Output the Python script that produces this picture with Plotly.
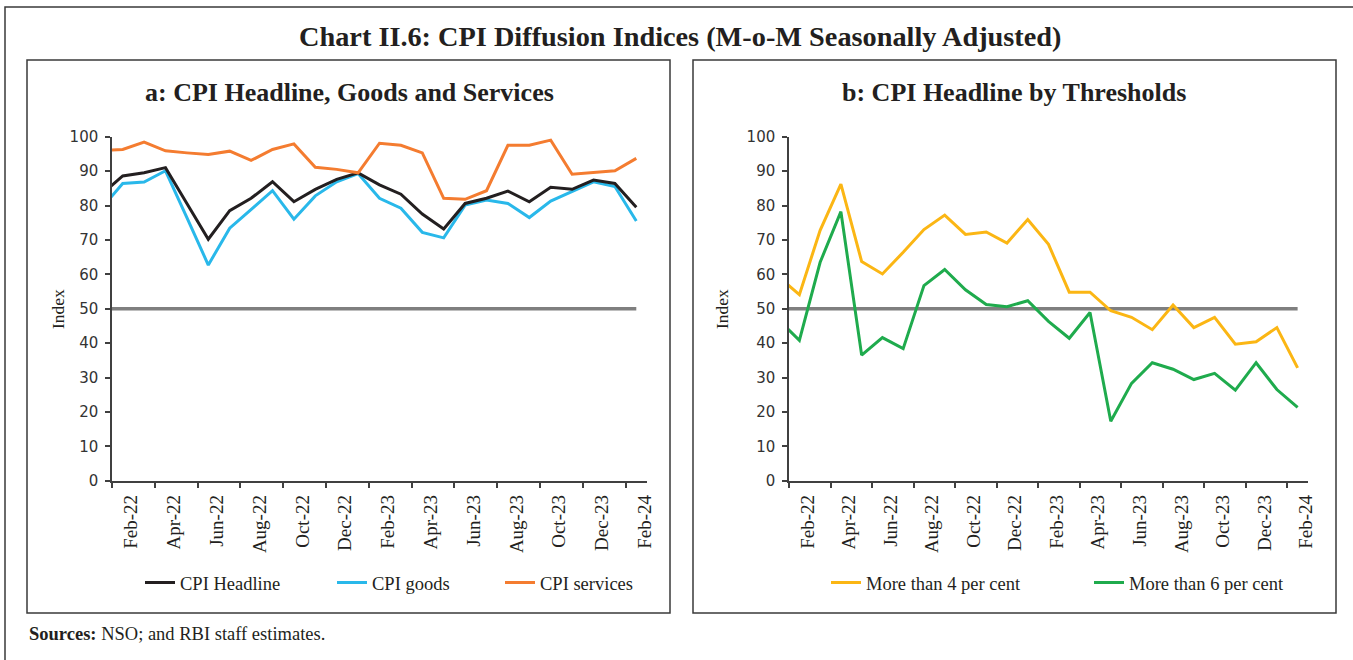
import plotly.graph_objects as go

# ---------------- data ----------------
months = ["Jan-22", "Feb-22", "Mar-22", "Apr-22", "May-22", "Jun-22", "Jul-22", "Aug-22",
          "Sep-22", "Oct-22", "Nov-22", "Dec-22", "Jan-23", "Feb-23", "Mar-23", "Apr-23",
          "May-23", "Jun-23", "Jul-23", "Aug-23", "Sep-23", "Oct-23", "Nov-23", "Dec-23",
          "Jan-24", "Feb-24"]

cpi_headline = [83.2, 88.6, 89.5, 91.0, 80.6, 70.2, 78.5, 82.1, 86.9, 81.1, 84.7, 87.6, 89.5,
                86.0, 83.3, 77.5, 73.2, 80.6, 82.1, 84.2, 81.1, 85.3, 84.7, 87.4, 86.4, 79.5]
cpi_goods = [79.1, 86.4, 86.8, 90.1, 76.5, 62.7, 73.4, 78.9, 84.3, 76.0, 82.8, 86.9, 89.3,
             82.1, 79.2, 72.2, 70.6, 80.1, 81.6, 80.6, 76.5, 81.3, 84.0, 86.9, 85.5, 75.5]
cpi_services = [95.9, 96.3, 98.4, 95.9, 95.3, 94.8, 95.8, 93.1, 96.3, 97.9, 91.1, 90.5, 89.5,
                98.1, 97.5, 95.3, 82.1, 81.8, 84.3, 97.5, 97.5, 99.0, 89.1, 89.5, 90.1, 93.7]

more_than_4 = [59.3, 54.1, 72.8, 86.2, 63.7, 60.1, 66.4, 73.0, 77.2, 71.6, 72.3, 69.1, 75.9,
               68.7, 54.8, 54.8, 49.4, 47.5, 43.9, 51.1, 44.5, 47.5, 39.7, 40.4, 44.5, 32.8]
more_than_6 = [46.8, 40.8, 63.5, 78.2, 36.5, 41.6, 38.4, 56.7, 61.4, 55.5, 51.2, 50.6, 52.3,
               46.3, 41.4, 48.9, 17.3, 28.3, 34.3, 32.4, 29.4, 31.2, 26.3, 34.3, 26.5, 21.3]

threshold = [50] * len(months)

tick_labels = months[1::2]

# ---------------- figure ----------------
W, H = 1353, 660
x_idx = list(range(len(months)))
tick_pos = [i + 0.4 for i in x_idx[1::2]]

SERIF = "Liberation Serif"
SANS = "DejaVu Sans"
TXT = "#231f20"
AX = "#404040"

fig = go.Figure()

def line_trace(y, color, name, xa, ya, legend=None, width=3):
    return go.Scatter(x=x_idx, y=y, mode="lines", name=name,
                      line=dict(color=color, width=width),
                      xaxis=xa, yaxis=ya,
                      showlegend=legend is not None,
                      legend=legend if legend else "legend",
                      hoverinfo="skip")

# panel a
fig.add_trace(line_trace(threshold, "#7f7f7f", "50", "x", "y", width=3.5))
fig.add_trace(line_trace(cpi_goods, "#29b8ea", "CPI goods", "x", "y", "legend2"))
fig.add_trace(line_trace(cpi_headline, "#231f20", "CPI Headline", "x", "y", "legend"))
fig.add_trace(line_trace(cpi_services, "#f47c30", "CPI services", "x", "y", "legend3"))
# panel b
fig.add_trace(line_trace(threshold, "#7f7f7f", "50", "x2", "y2", width=3.5))
fig.add_trace(line_trace(more_than_4, "#fbb614", "More than 4 per cent", "x2", "y2", "legend4"))
fig.add_trace(line_trace(more_than_6, "#1fab4d", "More than 6 per cent", "x2", "y2", "legend5"))

def px_x(p):
    return p / W

def px_y(p):
    return 1 - p / H

y_dom = [px_y(480.7), px_y(136.7)]

xaxis_common = dict(
    range=[0.5, 25.5], showline=True, linecolor=AX, linewidth=1.5,
    showgrid=False, zeroline=False, tickmode="array", tickvals=tick_pos,
    ticktext=tick_labels, ticks="", tickangle=-90,
    tickfont=dict(family=SERIF, size=19, color=TXT), ticklabelstandoff=5,
    minor=dict(ticks="outside", tickmode="linear", tick0=0.5, dtick=2,
               ticklen=6, tickwidth=1.5, tickcolor=AX, showgrid=False),
    fixedrange=True, automargin=False,
)
yaxis_common = dict(
    range=[0, 100], dtick=10, tick0=0, ticks="outside", ticklen=5, tickwidth=1.5,
    tickcolor=AX, showline=True, linecolor=AX, linewidth=1.5, showgrid=False,
    zeroline=False, tickfont=dict(family=SANS, size=15, color="#333333"),
    ticklabelstandoff=4, fixedrange=True, automargin=False,
)

leg_common = dict(orientation="h", yanchor="middle", y=px_y(583), xanchor="left",
                  bgcolor="rgba(0,0,0,0)", font=dict(family=SERIF, size=18.5, color=TXT),
                  itemwidth=30)

def leg(text_x):
    d = dict(leg_common)
    d["x"] = px_x(text_x - 40)
    return d

fig.update_layout(
    width=W, height=H, margin=dict(l=0, r=0, t=0, b=0, pad=0, autoexpand=False),
    paper_bgcolor="white", plot_bgcolor="white",
    xaxis=dict(domain=[px_x(112), px_x(647)], anchor="y", **xaxis_common),
    yaxis=dict(domain=y_dom, anchor="x", **yaxis_common),
    xaxis2=dict(domain=[px_x(789), px_x(1308)], anchor="y2", **xaxis_common),
    yaxis2=dict(domain=y_dom, anchor="x2", **yaxis_common),
    legend=leg(180), legend2=leg(372), legend3=leg(540),
    legend4=leg(866), legend5=leg(1129),
)

shapes = [
    dict(type="rect", xref="paper", yref="paper", x0=px_x(5), y0=px_y(7),
         x1=px_x(1370), y1=px_y(680), line=dict(color="#3a3a3a", width=1.5)),
    dict(type="rect", xref="paper", yref="paper", x0=px_x(27), y0=px_y(60),
         x1=px_x(670), y1=px_y(613), line=dict(color="#3a3a3a", width=1.5)),
    dict(type="rect", xref="paper", yref="paper", x0=px_x(693), y0=px_y(60),
         x1=px_x(1336), y1=px_y(613), line=dict(color="#3a3a3a", width=1.5)),
]
fig.update_layout(shapes=shapes)

ann = [
    dict(text="<b>Chart II.6: CPI Diffusion Indices (M-o-M Seasonally Adjusted)</b>",
         x=px_x(680), y=px_y(37), font=dict(family=SERIF, size=28.3, color=TXT)),
    dict(text="<b>a: CPI Headline, Goods and Services</b>",
         x=px_x(349), y=px_y(92), font=dict(family=SERIF, size=26, color=TXT)),
    dict(text="<b>b: CPI Headline by Thresholds</b>",
         x=px_x(1014), y=px_y(92), font=dict(family=SERIF, size=26, color=TXT)),
    dict(text="Index", x=px_x(58), y=px_y(309), textangle=-90,
         font=dict(family=SERIF, size=17.5, color=TXT)),
    dict(text="Index", x=px_x(722), y=px_y(309), textangle=-90,
         font=dict(family=SERIF, size=17.5, color=TXT)),
]
for a in ann:
    a.update(xref="paper", yref="paper", showarrow=False, xanchor="center", yanchor="middle")
ann.append(dict(text="<b>Sources:</b> NSO; and RBI staff estimates.", xref="paper", yref="paper",
                x=px_x(27), y=px_y(634), xanchor="left", yanchor="middle", showarrow=False,
                font=dict(family=SERIF, size=18.5, color=TXT)))
fig.update_layout(annotations=ann)

fig.write_html("out.html", config={"displayModeBar": False})

# remove the default page margin so the 1353x660 figure fills the window exactly
with open("out.html", "r", encoding="utf-8") as f:
    html = f.read()
html = html.replace("<head>", "<head><style>html,body{margin:0;padding:0;overflow:hidden;}</style>", 1)
with open("out.html", "w", encoding="utf-8") as f:
    f.write(html)
